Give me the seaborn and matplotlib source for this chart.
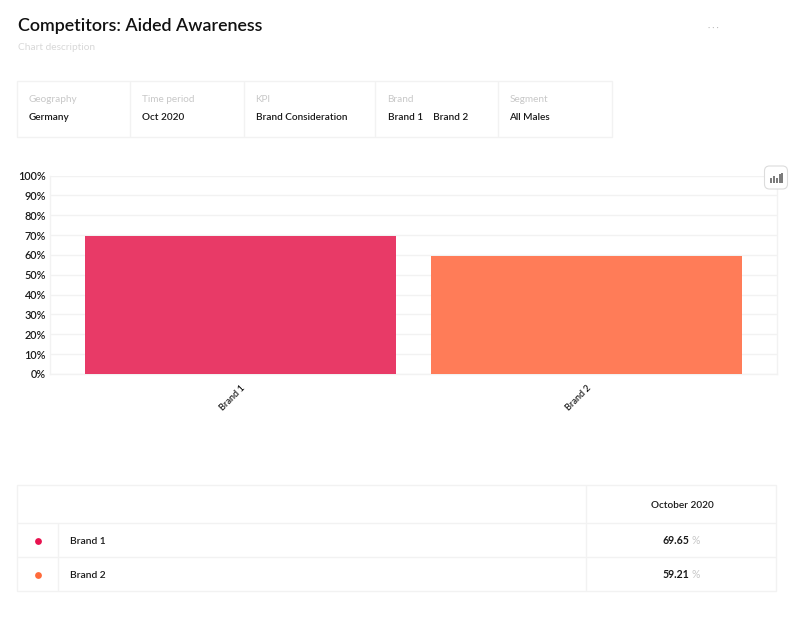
import matplotlib
matplotlib.use('Agg')
import matplotlib.pyplot as plt
from matplotlib.patches import FancyBboxPatch, Rectangle
import numpy as np
import pandas as pd
import seaborn as sns

# DATA

brands = ['Brand 1', 'Brand 2']
awareness = [69.65, 59.21]
awareness_labels = ['69.65', '59.21']
y_ticks = [0, 10, 20, 30, 40, 50, 60, 70, 80, 90, 100]
filter_names = ['Geography', 'Time period', 'KPI', 'Brand', 'Segment']
filter_values = ['Germany', 'Oct 2020', 'Brand Consideration', 'Brand 1    Brand 2', 'All Males']
table_period = 'October 2020'

bar_colors = ['#e83a67', '#ff7c58']
dot_colors = ['#e8124f', '#ff6b3b']
line_color = '#f2f2f2'
soft_text = '#c8c8c8'
dark_text = '#1a1a1a'

W, H = 800, 617

sns.set_theme(style='white')
plt.rcParams['font.family'] = ['Lato', 'DejaVu Sans']

fig = plt.figure(figsize=(W / 100, H / 100), dpi=100)

# chart area, positions in pixels of the page
left, right, top, bottom = 49.5, 776.5, 175.5, 374
ax = fig.add_axes([left / W, 1 - bottom / H, (right - left) / W, (bottom - top) / H])

df = pd.DataFrame({'brand': brands, 'awareness': awareness})
sns.barplot(data=df, x='brand', y='awareness', hue='brand', palette=bar_colors,
            width=0.9, saturation=1, legend=False, ax=ax, zorder=3, linewidth=0)

ax.set_xlim(-0.552, 1.549)
ax.set_ylim(0, 100)
ax.set_yticks(y_ticks)
ax.set_yticklabels([f'{t}%' for t in y_ticks], fontsize=7.8, color=dark_text, fontweight='semibold')
ax.set_xlabel('')
ax.set_ylabel('')
ax.grid(axis='y', color=line_color, linewidth=1, zorder=0)
ax.set_axisbelow(True)
for side in ax.spines:
    ax.spines[side].set_color(line_color)
    ax.spines[side].set_linewidth(1)
ax.spines['top'].set_visible(False)
ax.tick_params(axis='y', length=0, pad=2.5)
ax.tick_params(axis='x', length=0, pad=7)
ax.set_xticks([0, 1])
ax.set_xticklabels(brands, rotation=45, ha='right', va='top', rotation_mode='anchor',
                   fontsize=6.6, color=dark_text, fontweight='semibold')

# page furniture on a full size overlay in pixel coordinates
page = fig.add_axes([0, 0, 1, 1], zorder=5)
page.set_xlim(0, W)
page.set_ylim(H, 0)
page.axis('off')
page.patch.set_alpha(0)


def hline(x0, x1, y):
    page.plot([x0, x1], [y, y], color=line_color, linewidth=1, solid_capstyle='butt')


def vline(x, y0, y1):
    page.plot([x, x], [y0, y1], color=line_color, linewidth=1, solid_capstyle='butt')


page.text(18, 26.5, 'Competitors: Aided Awareness', fontsize=12.9, color='#111111',
          va='center', fontweight='semibold')
page.text(18.5, 47.5, 'Chart description', fontsize=7.3, color='#d8d8d8', va='center')
page.text(713.5, 27, '· · ·', fontsize=6, color='#b5b5b5', ha='center', va='center')

# filter strip
page.add_patch(Rectangle((17, 81), 595, 56, fill=False, edgecolor=line_color, linewidth=1))
filter_x = [28.5, 142, 255.5, 387.5, 509.5]
for x in [130, 244, 375, 498]:
    vline(x, 81, 137)
for x, name, value in zip(filter_x, filter_names, filter_values):
    page.text(x, 99.5, name, fontsize=7.2, color=soft_text, va='center')
    page.text(x, 117.5, value, fontsize=7.2, color=dark_text, va='center', fontweight='semibold')

# chart type button
page.add_patch(FancyBboxPatch((767, 168.5), 18, 18, boxstyle='round,pad=2.5,rounding_size=5',
                              facecolor='white', edgecolor='#dcdcdc', linewidth=0.8))
for x, h in zip([770.5, 773.5, 776.5, 779.5, 781.5], [5, 7, 5, 9, 10]):
    page.plot([x, x], [183, 183 - h], color='#555555', linewidth=1.1, solid_capstyle='butt')

# value table
page.add_patch(Rectangle((17, 485), 759, 106, fill=False, edgecolor=line_color, linewidth=1))
hline(17, 776, 523)
hline(17, 776, 557)
vline(586, 485, 591)
vline(58, 523, 591)
page.text(682, 505, table_period, fontsize=7.2, color=dark_text, ha='center', va='center',
          fontweight='semibold')
for y, brand, color, label in zip([540.5, 574.5], brands, dot_colors, awareness_labels):
    page.scatter([38], [y], s=24, color=color, linewidths=0)
    page.text(70.5, y + 0.5, brand, fontsize=7.4, color=dark_text, va='center', fontweight='semibold')
    page.text(689, y + 0.5, label, fontsize=7.6, color=dark_text, ha='right', va='center', fontweight='bold')
    page.text(692, y + 0.5, '%', fontsize=7.6, color=soft_text, ha='left', va='center')

fig.savefig('out.png', dpi=100, facecolor='white')
